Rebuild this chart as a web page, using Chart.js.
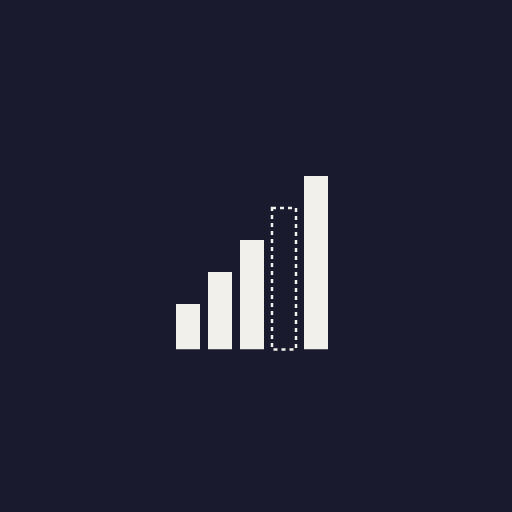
<!DOCTYPE html>
<html>
<head>
<meta charset="utf-8">
<style>html,body{margin:0;padding:0;background:#1a1a2e;width:512px;height:512px;overflow:hidden}canvas{display:block}</style>
<script src="https://cdn.jsdelivr.net/npm/chart.js@4"></script>
</head>
<body>
<canvas id="c" width="512" height="512"></canvas>
<script>
const categories = ["1", "2", "3", "4", "5"];
const values = [45.5, 77.5, 109.5, 141.5, 173.5];
const dashedCategories = ["4"];

const dashedOutline = {
  id: "dashedOutline",
  afterDatasetsDraw(chart) {
    const ctx = chart.ctx;
    chart.getDatasetMeta(0).data.forEach((bar, i) => {
      if (!dashedCategories.includes(categories[i])) return;
      const p = bar.getProps(["x", "y", "base", "width"], true);
      ctx.save();
      ctx.strokeStyle = "#f2f0eb";
      ctx.lineWidth = 2.5;
      ctx.setLineDash([4, 4]);
      ctx.beginPath();
      ctx.rect(p.x - p.width / 2, p.y, p.width, p.base - p.y);
      ctx.stroke();
      ctx.restore();
    });
  }
};

new Chart(document.getElementById("c"), {
  type: "bar",
  data: {
    labels: categories,
    datasets: [{
      data: values,
      backgroundColor: categories.map(c => dashedCategories.includes(c) ? "rgba(0,0,0,0)" : "#f2f0eb"),
      borderWidth: 0,
      barPercentage: 1,
      categoryPercentage: 0.75
    }]
  },
  options: {
    responsive: false,
    animation: false,
    devicePixelRatio: 1,
    layout: { padding: { left: 172, right: 180, top: 176, bottom: 162.5 } },
    plugins: { legend: { display: false }, tooltip: { enabled: false }, title: { display: false } },
    scales: {
      x: { display: false },
      y: { display: false, min: 0, max: 173.5 }
    }
  },
  plugins: [dashedOutline]
});
</script>
</body>
</html>
